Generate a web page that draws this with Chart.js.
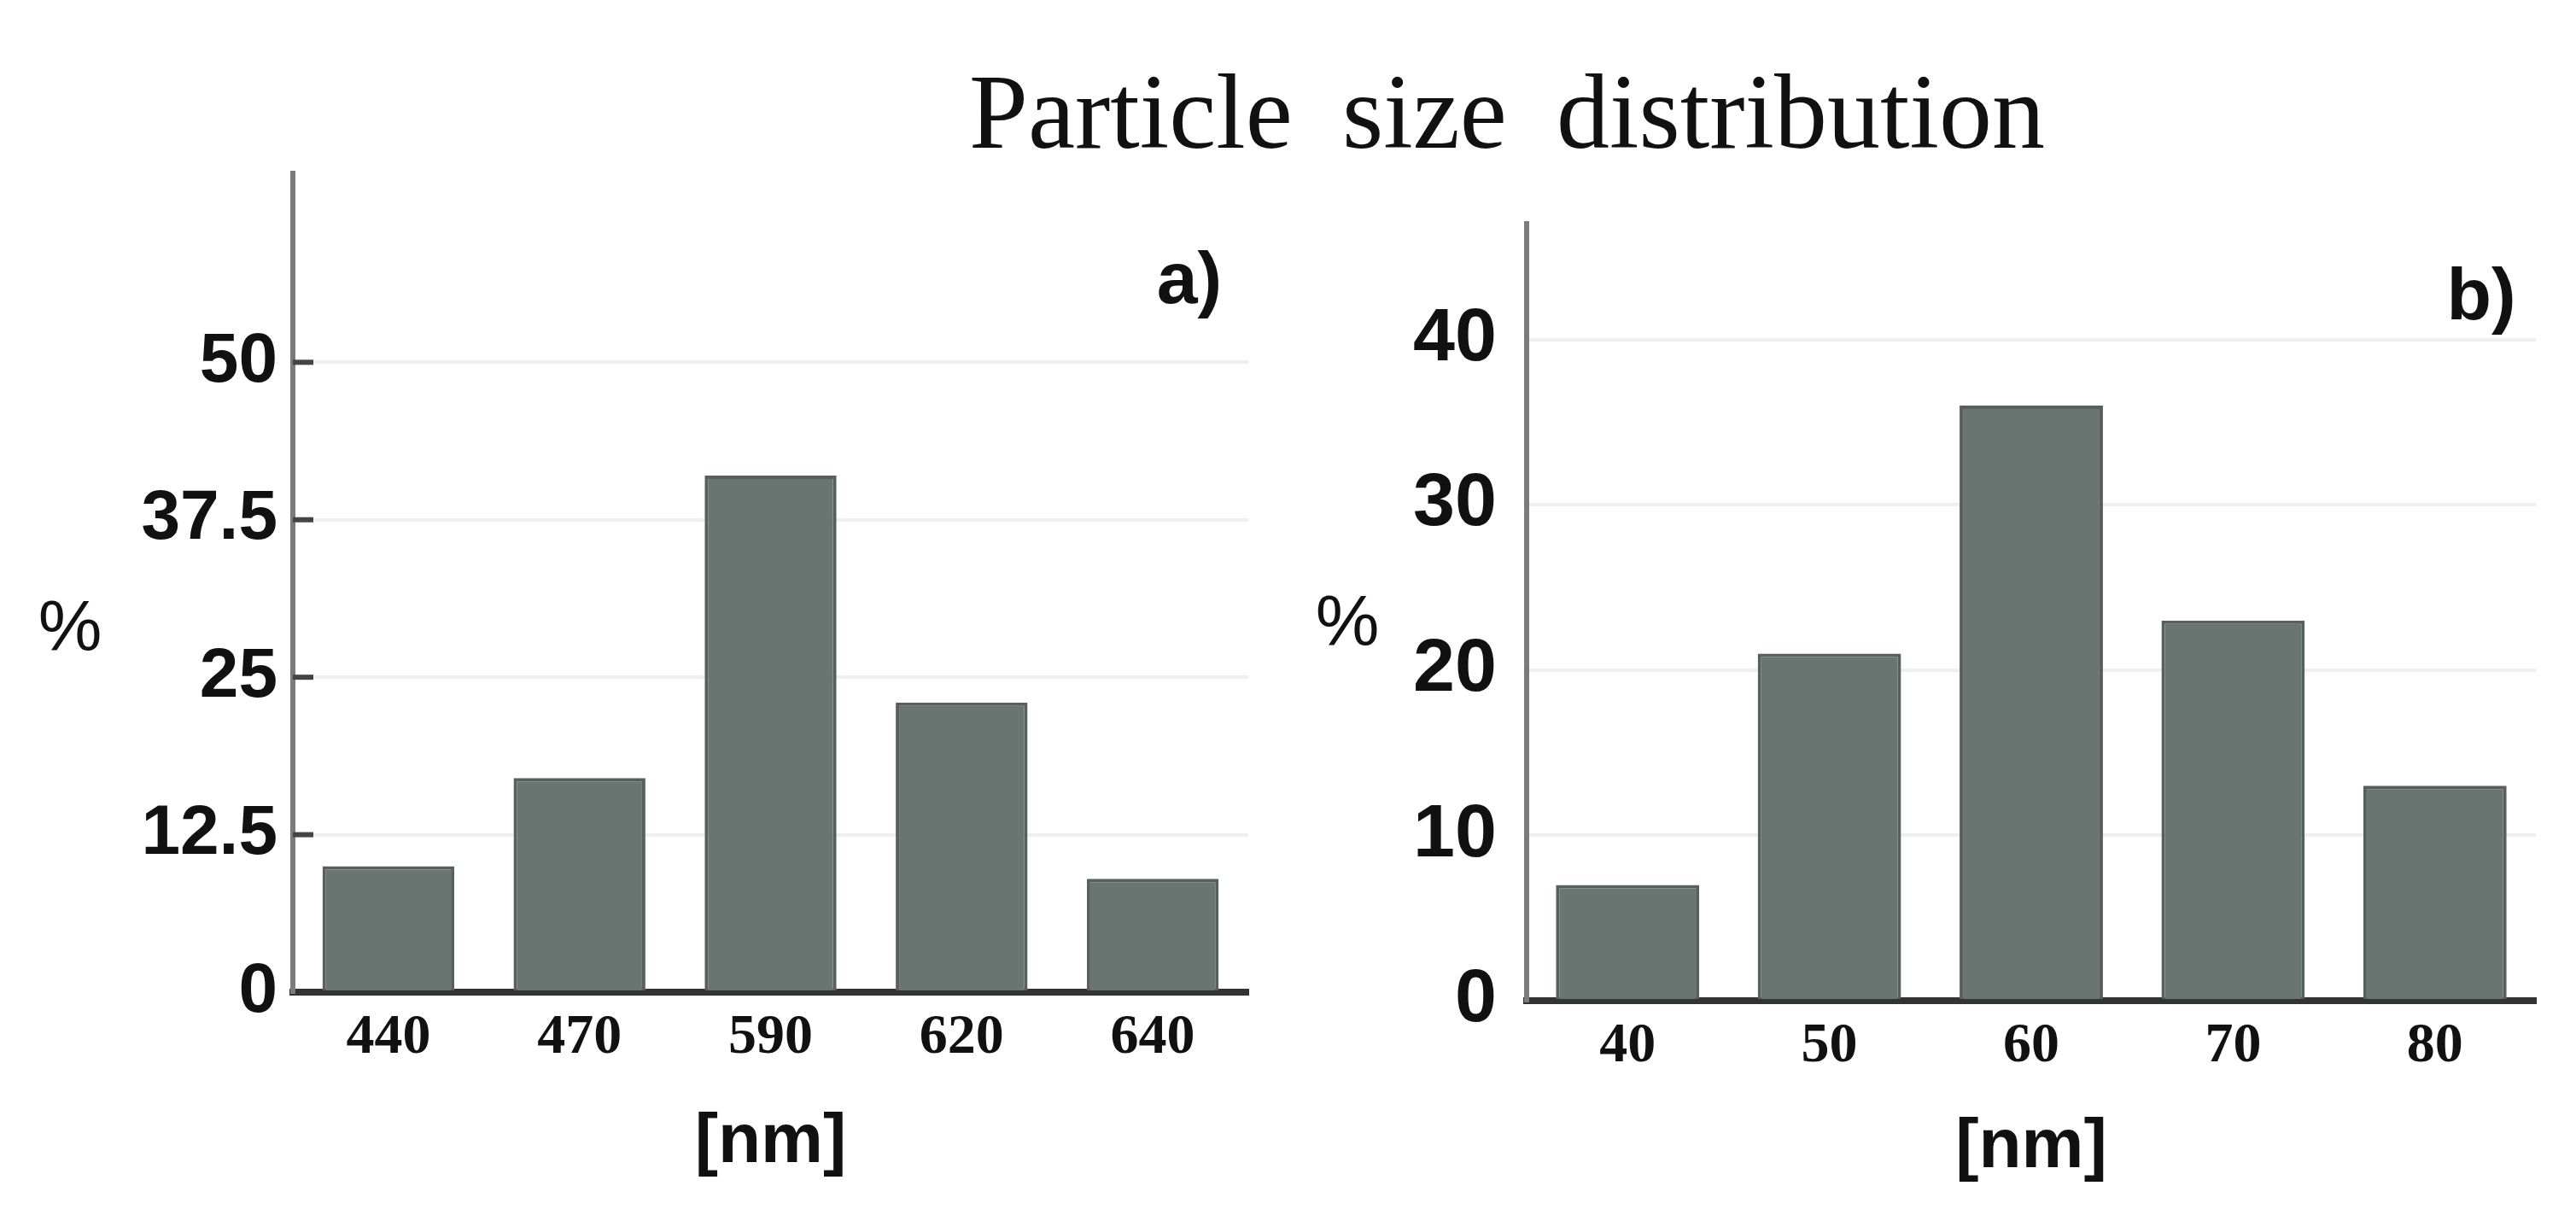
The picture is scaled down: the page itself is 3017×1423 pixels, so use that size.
<!DOCTYPE html>
<html>
<head>
<meta charset="utf-8">
<title>Particle size distribution</title>
<script src="https://cdn.jsdelivr.net/npm/chart.js@4.4.1/dist/chart.umd.min.js"></script>
<style>
  html, body { margin: 0; padding: 0; background: #fff; }
  body { width: 3017px; height: 1423px; position: relative; overflow: hidden; }
  #title {
    position: absolute; left: 1065px; width: 1400px; top: 70px;
    text-align: center; color: #111; word-spacing: 0.22em;
    font: 124px/1 "Liberation Serif", "Times New Roman", serif;
  }
  canvas { position: absolute; top: 0; }
  #chartA { left: 0; }
  #chartB { left: 1500px; }
</style>
</head>
<body>
<div id="title">Particle size distribution</div>
<canvas id="chartA" width="1500" height="1423"></canvas>
<canvas id="chartB" width="1517" height="1423"></canvas>
<script>
// panel a)
const sizesA = ['440', '470', '590', '620', '640'];
const percentA = [10, 17, 41, 23, 9];
const yTicksA = [0, 12.5, 25, 37.5, 50];
const yMaxA = 65;

// panel b)
const sizesB = ['40', '50', '60', '70', '80'];
const percentB = [7, 21, 36, 23, 13];
const yTicksB = [0, 10, 20, 30, 40];
const yMaxB = 47;

const SANS = '"Liberation Sans", Arial, sans-serif';
const SERIF = '"Liberation Serif", "Times New Roman", serif';

// draws the panel letter, the unit label and (optionally) short inward ticks
const annotate = {
  id: 'annotate',
  afterDraw(chart, args, opts) {
    const ctx = chart.ctx;
    ctx.save();
    if (opts.innerTicks) {
      const y = chart.scales.y;
      ctx.strokeStyle = '#444';
      ctx.lineWidth = 6;
      y.ticks.forEach(t => {
        if (t.value === 0) return;
        const py = y.getPixelForValue(t.value);
        ctx.beginPath();
        ctx.moveTo(y.right, py);
        ctx.lineTo(y.right + opts.innerTicks, py);
        ctx.stroke();
      });
    }
    (opts.texts || []).forEach(t => {
      ctx.font = t.font;
      ctx.fillStyle = '#111';
      ctx.textAlign = 'center';
      ctx.textBaseline = 'middle';
      ctx.fillText(t.text, t.x, t.y);
    });
    ctx.restore();
  }
};

function makeChart(id, labels, values, yTicks, yMax, cfg) {
  return new Chart(document.getElementById(id), {
    type: 'bar',
    data: {
      labels: labels,
      datasets: [{
        data: values,
        backgroundColor: '#6a7571',
        borderColor: '#56615c',
        borderWidth: 4,
        barPercentage: cfg.barPct,
        categoryPercentage: 1
      }]
    },
    plugins: [annotate],
    options: {
      responsive: false,
      animation: false,
      devicePixelRatio: 1,
      layout: { padding: cfg.padding },
      plugins: {
        legend: { display: false },
        tooltip: { enabled: false },
        annotate: { innerTicks: cfg.innerTicks, texts: cfg.texts }
      },
      scales: {
        x: {
          grid: { display: true, color: 'rgba(0,0,0,0)', drawTicks: false },
          border: { display: true, color: '#333', width: 8 },
          ticks: { color: '#111', padding: 14, font: { family: SERIF, weight: 'bold', size: 66 } },
          title: {
            display: true, text: '[nm]', color: '#111', padding: 0,
            font: { family: SANS, weight: 'bold', size: 82 }
          },
          afterFit: s => { s.height = cfg.xHeight; }
        },
        y: {
          min: 0,
          max: yMax,
          afterBuildTicks: s => { s.ticks = yTicks.map(v => ({ value: v })); },
          grid: {
            color: c => (c.tick && c.tick.value === 0) ? 'rgba(0,0,0,0)' : '#efefef',
            lineWidth: 4,
            drawTicks: false
          },
          border: { display: true, color: '#7b7b7b', width: 6 },
          ticks: {
            color: '#111', padding: cfg.yPad,
            font: { family: SANS, weight: 'bold', size: cfg.ySize }
          },
          afterFit: s => { s.width = 200; }
        }
      }
    }
  });
}

makeChart('chartA', sizesA, percentA, yTicksA, yMaxA, {
  barPct: 0.69,
  padding: { left: 143, right: 38, top: 203, bottom: 35 },
  xHeight: 226,
  yPad: 18,
  ySize: 82,
  innerTicks: 24,
  texts: [
    { text: '%', x: 82, y: 739, font: '84px ' + SANS },
    { text: 'a)', x: 1393, y: 331, font: 'bold 86px ' + SANS }
  ]
});

makeChart('chartB', sizesB, percentB, yTicksB, yMaxB, {
  barPct: 0.71,
  padding: { left: 88, right: 47, top: 262, bottom: 29 },
  xHeight: 222,
  yPad: 35,
  ySize: 88,
  innerTicks: 0,
  texts: [
    { text: '%', x: 78, y: 733, font: '84px ' + SANS },
    { text: 'b)', x: 1406, y: 350, font: 'bold 86px ' + SANS }
  ]
});
</script>
</body>
</html>
